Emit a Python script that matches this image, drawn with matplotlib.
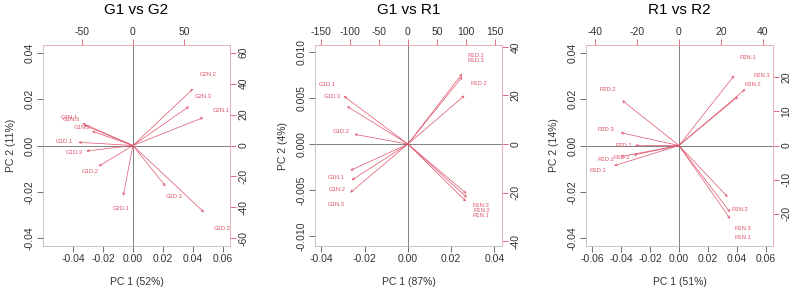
import numpy as np
from matplotlib import pyplot as plt

plt.rcParams['font.family'] = ['Liberation Sans', 'DejaVu Sans']
plt.rcParams['axes.unicode_minus'] = False

red = '#DF536B'

# panel titles and axis labels
titles = ['G1 vs G2', 'G1 vs R1', 'R1 vs R2']
xlabels = ['PC 1 (52%)', 'PC 1 (87%)', 'PC 1 (51%)']
ylabels = ['PC 2 (11%)', 'PC 2 (4%)', 'PC 2 (14%)']

# loadings (label positions), one set per panel
names1 = ['G2N.2', 'G2N.3', 'G2N.1', 'G1N.1', 'G1N.3', 'G1N.2',
          'G1D.1', 'G1D.3', 'G1D.2', 'G2D.1', 'G2D.3', 'G2D.2']
pc1_1 = [73.5, 68.6, 86.0, -62.0, -60.0, -50.0, -66.7, -57.0, -42.0, -11.8, 40.0, 87.0]
pc2_1 = [45.8, 31.6, 22.6, 18.0, 16.5, 11.6, 2.6, -4.5, -16.8, -40.6, -33.0, -54.0]

names2 = ['R1D.1', 'R1D.3', 'R1D.2', 'G1D.1', 'G1D.3', 'G1D.2',
          'G1N.1', 'G1N.2', 'G1N.3', 'R1N.3', 'R1N.2', 'R1N.1']
pc1_2 = [117.0, 117.0, 122.0, -138.0, -131.0, -115.0, -124.0, -121.0, -124.0, 126.0, 127.0, 125.0]
pc2_2 = [36.3, 34.6, 25.0, 24.7, 19.4, 5.0, -13.6, -18.6, -25.0, -25.5, -27.5, -29.5]

names3 = ['R2N.1', 'R2N.3', 'R2N.2', 'R2D.2', 'R2D.3', 'R2D.1',
          'R1D.3', 'R1D.2', 'R1D.1', 'R1N.2', 'R1N.3', 'R1N.1']
pc1_3 = [32.9, 39.5, 35.2, -33.8, -34.8, -26.2, -34.8, -27.0, -38.6, 29.0, 30.5, 30.5]
pc2_3 = [25.6, 20.6, 17.9, 16.5, 4.7, 0.0, -4.1, -3.5, -7.4, -18.8, -24.4, -26.8]

# tick values: bottom, left (scores) / top, right (loadings)
xt_bot = [np.arange(-0.04, 0.061, 0.02), np.arange(-0.04, 0.041, 0.02), np.arange(-0.06, 0.061, 0.02)]
yt_left = [np.arange(-0.04, 0.041, 0.02), np.arange(-0.01, 0.0101, 0.005), np.arange(-0.04, 0.041, 0.02)]
yfmt = ['%.2f', '%.3f', '%.2f']
xt_top = [[-50, 0, 50], [-150, -100, -50, 0, 50, 100, 150], [-40, -20, 0, 20, 40]]
yt_right = [[-60, -40, -20, 0, 20, 40, 60], [-40, -20, 0, 20, 40], [-20, -10, 0, 10, 20]]

# axis limits (scores / loadings)
xlim_s = [(-0.060, 0.0647), (-0.043, 0.0435), (-0.0645, 0.065)]
ylim_s = [(-0.0435, 0.0435), (-0.0111, 0.01076), (-0.0435, 0.0435)]
xlim_l = [(-88, 95), (-160, 162), (-44.3, 44.8)]
ylim_l = [(-65, 65), (-42, 40.8), (-29.4, 29.4)]

fig = plt.figure(figsize=(7.96, 2.95), dpi=100)
lefts = [43 / 796, 315 / 796, 586 / 796]
W, B, H = 187 / 796, 49 / 295, 201 / 295

allnames = [names1, names2, names3]
allx = [pc1_1, pc1_2, pc1_3]
ally = [pc2_1, pc2_2, pc2_3]

for i in range(3):
	rect = [lefts[i], B, W, H]
	ax = fig.add_axes(rect)
	ax.set_xlim(xlim_s[i])
	ax.set_ylim(ylim_s[i])
	ax.set_xticks(xt_bot[i])
	ax.set_xticklabels(['%.2f' % v if abs(v) > 1e-9 else '0.00' for v in xt_bot[i]])
	ax.set_yticks(yt_left[i])
	ax.set_yticklabels([yfmt[i] % v if abs(v) > 1e-9 else yfmt[i] % 0 for v in yt_left[i]],
	                   rotation=90, va='center')
	ax.tick_params(direction='out', length=4, width=0.6, labelsize=7.5, color='#555555',
	               labelcolor='#333333', pad=2)
	for s in ax.spines.values():
		s.set_linewidth(0.6)
		s.set_color('#bbbbbb')
	ax.axhline(0, color='#808080', lw=0.7)
	ax.axvline(0, color='#808080', lw=0.7)
	ax.set_xlabel(xlabels[i], fontsize=7.5, color='#333333', labelpad=9)
	ax.set_ylabel(ylabels[i], fontsize=7.5, color='#333333', labelpad=6)
	ax.text(0.5, 1.175, titles[i], transform=ax.transAxes, ha='center', va='center', fontsize=11)

	# loadings axes on top / right
	ax2 = fig.add_axes(rect, facecolor='none')
	ax2.set_xlim(xlim_l[i])
	ax2.set_ylim(ylim_l[i])
	ax2.xaxis.tick_top()
	ax2.yaxis.tick_right()
	ax2.set_xticks(xt_top[i])
	ax2.set_yticks(yt_right[i])
	ax2.set_yticklabels([str(v) for v in yt_right[i]], rotation=90, va='center')
	ax2.tick_params(direction='out', length=4, width=0.6, labelsize=7.5, color=red,
	                labelcolor='#333333', pad=2)
	for k, s in ax2.spines.items():
		s.set_linewidth(0.6)
		s.set_color('#eab0b8' if k in ('top', 'right') else 'none')

	for n, x, y in zip(allnames[i], allx[i], ally[i]):
		ax2.annotate('', xy=(0.8 * x, 0.8 * y), xytext=(0, 0),
		             arrowprops=dict(arrowstyle='->', color=red, lw=0.5,
		                             shrinkA=0, shrinkB=0, mutation_scale=4))
		ax2.text(x, y, n, color=red, fontsize=4.2, ha='center', va='center')

plt.savefig('out.png', dpi=100)
